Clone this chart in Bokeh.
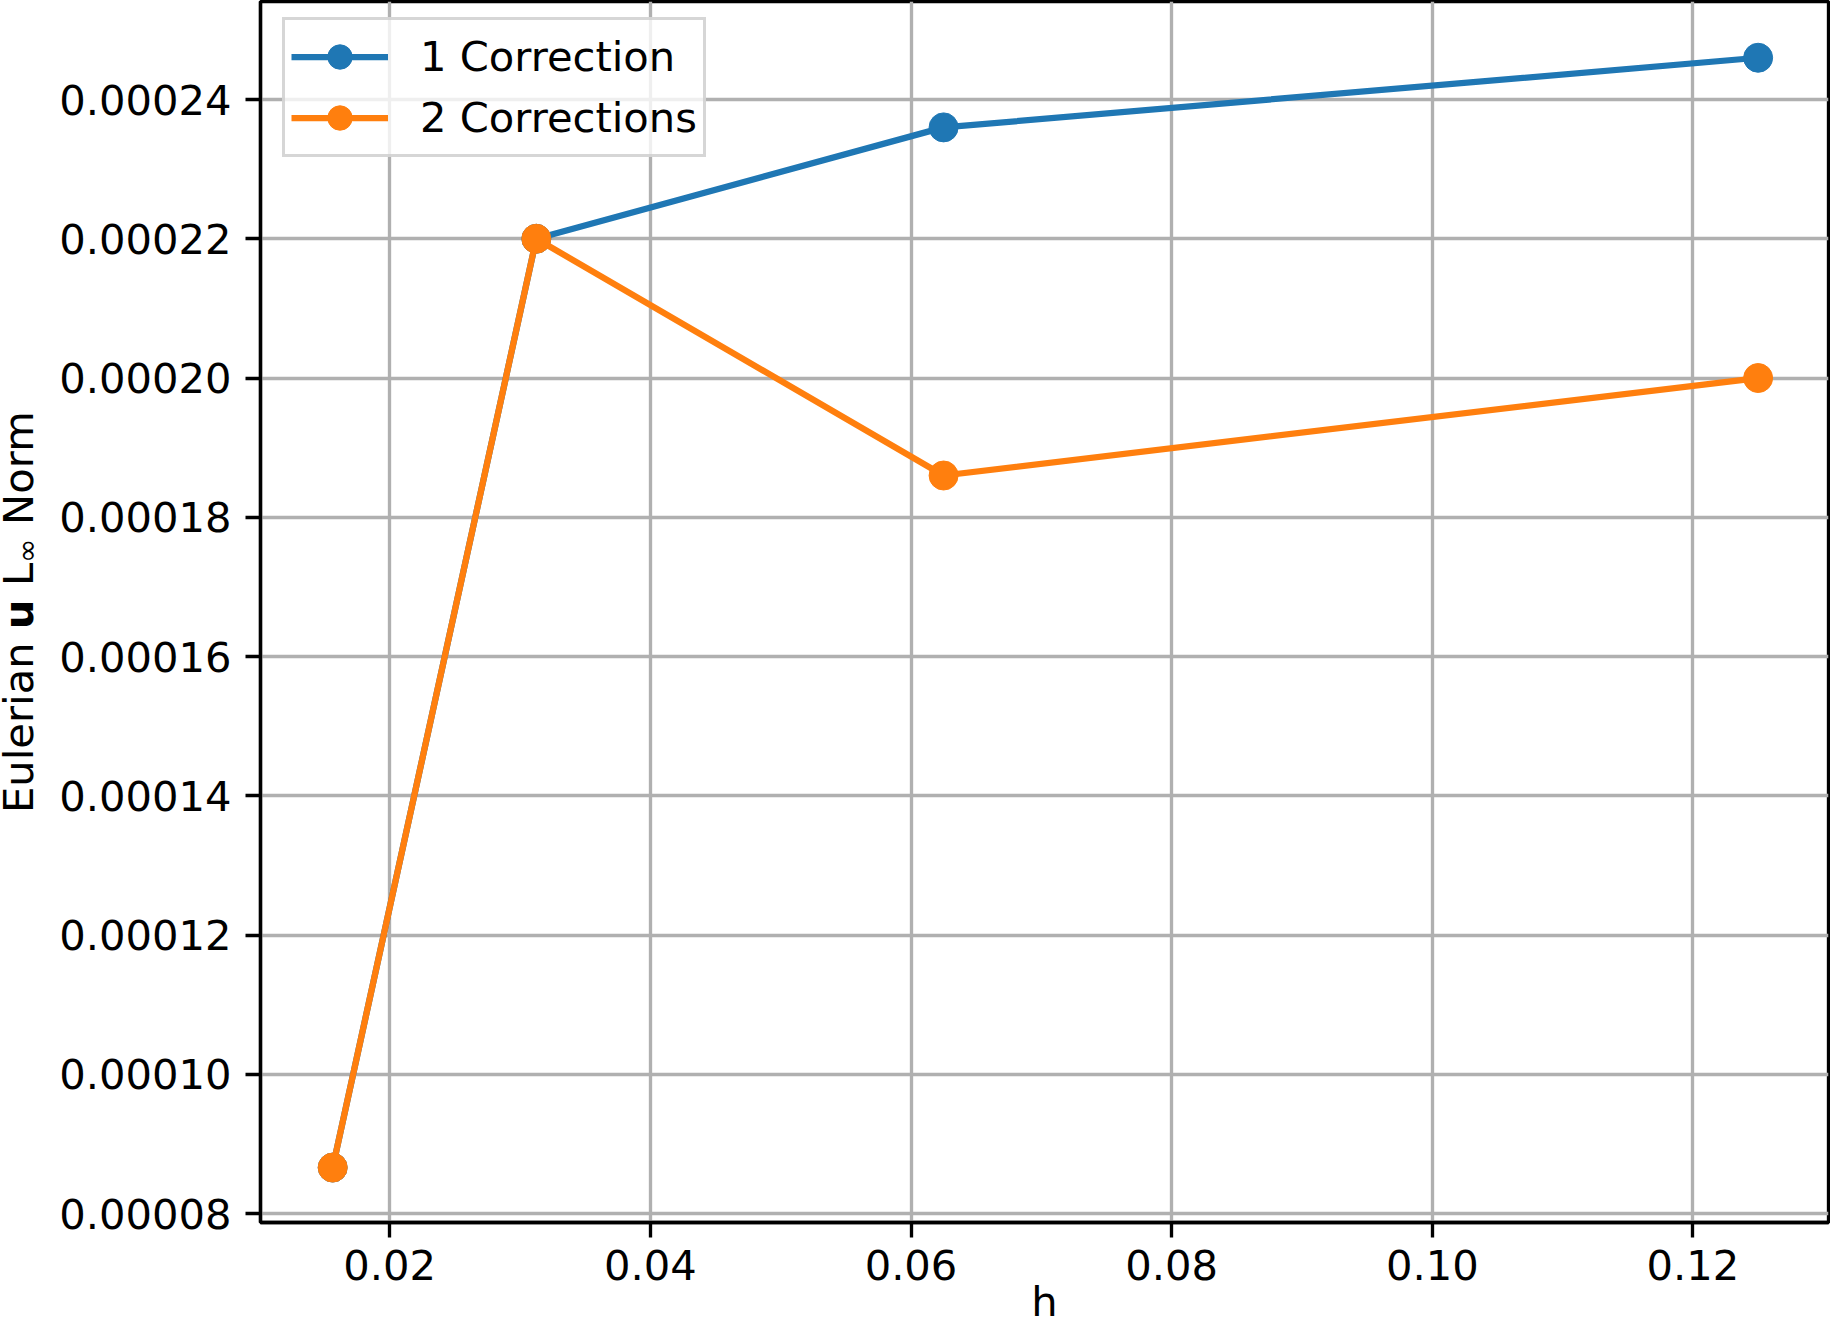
import numpy as np
from bokeh.plotting import figure
from bokeh.layouts import row
from bokeh.models import Range1d, FixedTicker, PrintfTickFormatter, Legend, LegendItem
from bokeh.core.properties import value
from bokeh.embed import file_html
from bokeh.resources import INLINE

# ---- data ----
h = [0.125, 0.0625, 0.03125, 0.015625]
one_correction = [0.000246, 0.000236, 0.000220, 0.0000866]
two_corrections = [0.000200, 0.000186, 0.000220, 0.0000866]
series_names = ["1 Correction", "2 Corrections"]
series_colors = ["#1f77b4", "#ff7f0e"]
x_ticks = [0.02, 0.04, 0.06, 0.08, 0.10, 0.12]
y_ticks = [0.00008, 0.00010, 0.00012, 0.00014, 0.00016, 0.00018, 0.00020, 0.00022, 0.00024]
x_label = "h"
y_label_parts = ["Eulerian", "u", "L", "\u221e", "Norm"]

FONT = "DejaVu Sans"
FS = "41.67px"
W_STRIP = 55
W, H = 1830, 1340
FRAME_TOP, FRAME_BOTTOM = 1, 1222   # page rows of the plot frame

# ---- narrow strip holding the multi-style y-axis title ----
# (a row aligns the strip's frame with the main frame, so map page rows onto it)
s = figure(width=W_STRIP, height=H, output_backend="svg", toolbar_location=None,
           x_range=Range1d(0, W_STRIP), y_range=Range1d(H - FRAME_BOTTOM, H - FRAME_TOP),
           x_axis_type=None, y_axis_type=None, min_border=0)
s.grid.visible = False
s.outline_line_color = None
s.background_fill_color = "white"
s.border_fill_color = "white"

# centre positions (pixels from strip left / page top) of each title piece
piece_cx = [18.0, 18.0, 18.0, 26.5, 18.0]
piece_cy = [727.2, 613.8, 574.0, 550.3, 467.6]
piece_style = ["normal", "bold", "normal", "normal", "normal"]
piece_size = [FS, FS, FS, "29.2px", FS]
for t, xx, yy, st, sz in zip(y_label_parts, piece_cx, piece_cy, piece_style, piece_size):
    s.text(x=[xx], y=[H - yy], text=[t], angle=np.pi / 2,
           text_font=value(FONT), text_font_size=value(sz), text_font_style=st,
           text_align="center", text_baseline="middle", text_color="black")

# ---- main plot ----
p = figure(width=W - W_STRIP, height=H, output_backend="svg", toolbar_location=None,
           x_range=Range1d(0.010086, 0.13040), y_range=Range1d(7.871e-5, 2.5408e-4),
           min_border_left=260 - W_STRIP, min_border_right=2, min_border_top=FRAME_TOP,
           min_border_bottom=H - FRAME_BOTTOM)

p.background_fill_color = "white"
p.border_fill_color = "white"
p.outline_line_color = "black"
p.outline_line_width = 3.33
p.outline_line_alpha = 1.0

p.xaxis.ticker = FixedTicker(ticks=x_ticks)
p.yaxis.ticker = FixedTicker(ticks=y_ticks)
p.xaxis.formatter = PrintfTickFormatter(format="%.2f")
p.yaxis.formatter = PrintfTickFormatter(format="%.5f")

for ax in (p.xaxis, p.yaxis):
    ax.axis_line_color = "black"
    ax.axis_line_width = 3.33
    ax.major_tick_line_color = "black"
    ax.major_tick_line_width = 3.33
    ax.major_tick_out = 15
    ax.major_tick_in = 0
    ax.minor_tick_line_color = None
    ax.major_label_text_font = FONT
    ax.major_label_text_font_size = FS
    ax.major_label_text_color = "black"
p.xaxis.major_label_standoff = 12
p.yaxis.major_label_standoff = 14

p.xaxis.axis_label = x_label
p.xaxis.axis_label_text_font = FONT
p.xaxis.axis_label_text_font_size = FS
p.xaxis.axis_label_text_font_style = "normal"
p.xaxis.axis_label_text_color = "black"
p.xaxis.axis_label_standoff = -6

for g in (p.xgrid, p.ygrid):
    g.grid_line_color = "#b0b0b0"
    g.grid_line_width = 3.33
    g.grid_line_alpha = 1.0

items = []
for name, vals, col in zip(series_names, [one_correction, two_corrections], series_colors):
    lr = p.line(h, vals, line_color=col, line_width=6.25)
    sr = p.scatter(h, vals, size=29, fill_color=col, line_color=col, line_width=1)
    items.append(LegendItem(label=name, renderers=[lr, sr]))

legend = Legend(items=items, location=(22, 1065), margin=0,
                label_text_font=FONT, label_text_font_size=FS, label_text_color="black",
                glyph_width=97, glyph_height=61, label_standoff=32,
                spacing=0, padding=6,
                border_line_color="#cccccc", border_line_width=3.5, border_line_alpha=0.8,
                background_fill_color="white", background_fill_alpha=0.8)
p.add_layout(legend)

layout = row(s, p)
open("out.html", "w").write(file_html(layout, INLINE))
